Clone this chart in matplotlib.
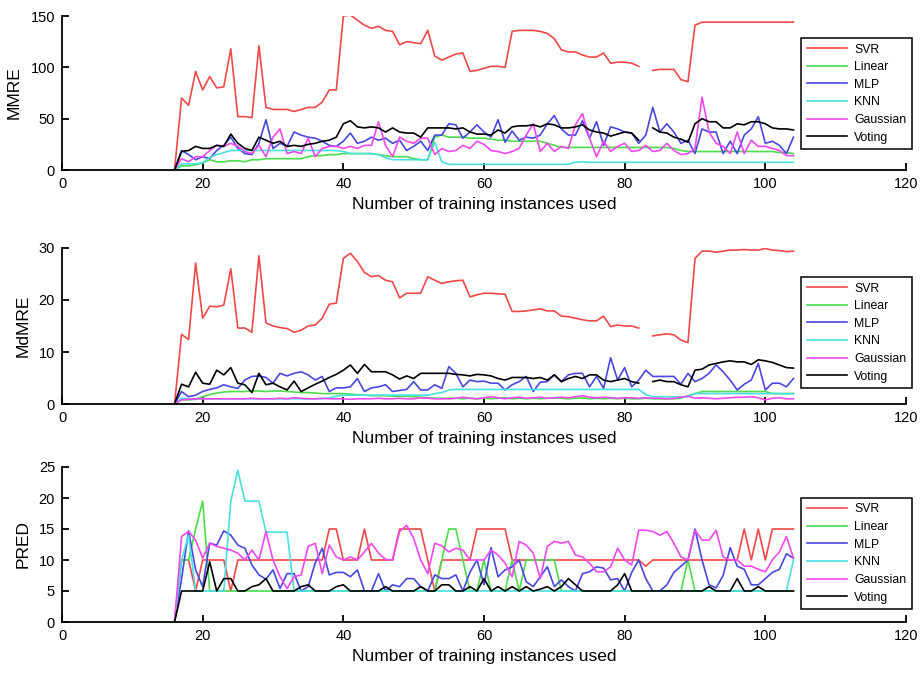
import numpy as np
import matplotlib
matplotlib.use('Agg')
import matplotlib.pyplot as plt

nan = np.nan

# training instances used: 16 .. 104
instances = list(range(16, 105))
methods = ['SVR', 'Linear', 'MLP', 'KNN', 'Gaussian', 'Voting']

# ---- MMRE ----
mmre_svr = [0, 70, 63, 96, 78, 91, 80, 81, 118, 52,
            52, 51, 121, 61, 59, 59, 59, 57, 59, 61,
            61, 66, 78, 78, 150, 151, 146, 141, 138, 140,
            136, 135, 122, 125, 124, 123, 136, 111, 107, 110,
            113, 114, 96, 97, 99, 101, 101, 100, 135, 136,
            136, 136, 135, 133, 128, 117, 115, 115, 112, 110,
            110, 114, 104, 105, 105, 104, 101, nan, 97, 98,
            98, 98, 88, 86, 141, 144, 144, 144, 144, 144,
            144, 144, 144, 144, 144, 144, 144, 144, 144]
mmre_linear = [0, 4, 4, 5, 7, 10, 8, 8, 9, 9,
               8, 10, 10, 11, 11, 11, 11, 11, 11, 13,
               14, 14, 15, 15, 16, 16, 16, 16, 16, 15,
               14, 13, 13, 13, 11, 10, 10, 32, 34, 32,
               32, 32, 31, 31, 31, 30, 29, 29, 28, 28,
               28, 28, 28, 26, 24, 22, 22, 22, 22, 22,
               22, 22, 22, 22, 22, 22, 22, 22, 22, 22,
               22, 21, 19, 18, 18, 18, 18, 18, 18, 18,
               18, 18, 18, 18, 18, 18, 17, 17, 16]
mmre_mlp = [0, 19, 15, 10, 13, 11, 19, 24, 32, 21,
            16, 15, 26, 49, 21, 26, 23, 37, 34, 32,
            31, 28, 24, 23, 28, 36, 26, 28, 32, 29,
            31, 26, 29, 19, 23, 28, 19, 34, 34, 45,
            44, 31, 37, 44, 37, 32, 49, 27, 38, 29,
            32, 31, 34, 45, 53, 40, 34, 34, 48, 31,
            47, 24, 42, 40, 37, 36, 26, 34, 61, 37,
            45, 37, 26, 29, 16, 40, 37, 37, 16, 28,
            16, 34, 40, 52, 26, 28, 24, 16, 32]
mmre_knn = [0, 6, 6, 6, 7, 12, 15, 17, 19, 19,
            19, 19, 19, 19, 19, 19, 19, 19, 19, 19,
            19, 19, 19, 19, 18, 16, 16, 16, 16, 15,
            12, 10, 10, 10, 10, 10, 10, 27, 8, 5.5,
            5.5, 5.5, 5.5, 5.5, 5.5, 5.5, 5.5, 5.5, 5.5, 5.5,
            5.5, 5.5, 5.5, 5.5, 5.5, 5.5, 5.5, 7.5, 8, 7.5,
            7.5, 7.5, 7.5, 7.5, 7.5, 7.5, 7.5, 7.5, 7.5, 7.5,
            7.5, 7.5, 7.5, 7.5, 7.5, 7.5, 7.5, 7.5, 7.5, 7.5,
            7.5, 7.5, 7.5, 7.5, 7.5, 7.5, 7.5, 7.5, 7.5]
mmre_gaussian = [0, 11, 8, 13, 13, 19, 24, 23, 26, 23,
                 18, 16, 24, 13, 32, 40, 16, 18, 16, 31,
                 13, 21, 23, 23, 21, 23, 21, 24, 24, 47,
                 24, 13, 32, 28, 26, 31, 31, 15, 21, 18,
                 19, 24, 21, 28, 25, 19, 18, 16, 18, 21,
                 34, 45, 18, 26, 18, 23, 21, 44, 55, 31,
                 13, 28, 18, 23, 26, 18, 19, 24, 18, 19,
                 26, 19, 15, 16, 21, 71, 37, 26, 23, 16,
                 37, 16, 29, 23, 23, 21, 19, 14, 14]
mmre_voting = [0, 18, 19, 23, 21, 21, 24, 23, 35, 26,
               21, 19, 32, 29, 26, 28, 23, 24, 23, 25,
               26, 28, 29, 32, 45, 48, 42, 41, 42, 41,
               37, 41, 37, 36, 36, 32, 41, 41, 41, 41,
               40, 41, 37, 35, 35, 34, 39, 36, 42, 43,
               43, 44, 42, 45, 44, 41, 41, 42, 44, 39,
               37, 36, 33, 35, 37, 36, 29, nan, 41, 37,
               36, 32, 30, 27, 45, 50, 47, 47, 41, 41,
               45, 44, 47, 47, 45, 41, 40, 40, 39]

# ---- MdMRE ----
mdmre_svr = [0, 13.4, 12.4, 27.1, 16.5, 18.8, 18.7, 19, 26, 14.6,
             14.6, 13.8, 28.5, 15.6, 15, 14.7, 14.5, 13.8, 14.2, 15.0,
             15.2, 16.5, 19.2, 19.4, 28, 29, 27.4, 25.3, 24.5, 24.7,
             23.8, 23.5, 20.4, 21.3, 21.3, 21.3, 24.5, 23.8, 23.2, 23.5,
             23.7, 23.8, 20.6, 21, 21.3, 21.3, 21.2, 21.1, 17.8, 17.8,
             17.9, 18.1, 18.3, 17.9, 17.9, 16.9, 16.8, 16.5, 16.2, 16,
             16, 16.9, 14.9, 15.2, 15, 15, 14.6, nan, 13.1, 13.3,
             13.5, 13.3, 12.3, 11.8, 28, 29.4, 29.4, 29.2, 29.4, 29.6,
             29.6, 29.7, 29.6, 29.6, 29.9, 29.6, 29.5, 29.3, 29.4]
mdmre_linear = [0, 0.8, 0.8, 0.9, 1.4, 1.8, 2.1, 2.3, 2.4, 2.4,
                2.4, 2.5, 2.5, 2.4, 2.5, 2.5, 2.4, 2.3, 2.2, 2.2,
                2.1, 2.0, 2.0, 2.0, 2.0, 1.9, 1.8, 1.7, 1.6, 1.6,
                1.6, 1.5, 1.5, 1.5, 1.4, 1.3, 1.2, 1.1, 1.1, 1.1,
                1.1, 1.0, 1.1, 1.0, 1.1, 1.0, 1.1, 1.2, 1.0, 1.1,
                1.0, 1.1, 1.0, 1.1, 1.2, 1.1, 1.0, 1.1, 1.2, 1.0,
                1.1, 1.0, 1.1, 1.0, 1.1, 1.0, 1.0, 1.1, 1.0, 1.0,
                1.0, 1.0, 1.1, 1.6, 2.0, 2.4, 2.4, 2.4, 2.4, 2.4,
                2.4, 2.4, 2.4, 2.4, 2.4, 2.0, 2.0, 2.0, 2.0]
mdmre_mlp = [0, 2.4, 1.4, 1.7, 2.4, 2.8, 3.1, 3.7, 3.3, 3.0,
             4.6, 5.3, 5.4, 5.1, 4.0, 5.9, 5.4, 5.9, 6.2, 5.6,
             4.6, 5.3, 2.4, 3.1, 3.1, 3.3, 4.9, 2.4, 3.1, 3.3,
             3.7, 2.4, 2.6, 2.8, 4.3, 2.7, 2.7, 3.7, 3.0, 7.2,
             5.9, 3.3, 4.6, 4.3, 4.4, 4.0, 4.0, 2.7, 3.7, 4.3,
             5.3, 2.4, 4.2, 4.3, 5.6, 4.3, 5.6, 5.9, 5.9, 3.3,
             5.3, 3.0, 8.9, 4.6, 7.0, 3.3, 4.6, 6.5, 5.3, 5.3,
             5.3, 5.3, 3.8, 5.9, 4.3, 4.9, 5.9, 7.5, 6.2, 4.6,
             2.7, 3.8, 4.6, 7.8, 2.7, 4.0, 4.0, 3.3, 4.9]
mdmre_knn = [0, 1.1, 1.0, 1.0, 1.0, 1.0, 1.0, 1.0, 1.0, 1.0,
             1.0, 1.0, 1.0, 1.0, 1.0, 1.0, 1.0, 1.0, 1.0, 1.0,
             1.0, 1.0, 1.2, 1.5, 1.7, 1.7, 1.7, 1.7, 1.7, 1.7,
             1.7, 1.7, 1.7, 1.7, 1.7, 1.7, 1.7, 2.0, 2.2, 2.7,
             2.8, 2.8, 2.8, 2.8, 2.8, 2.8, 2.8, 2.8, 2.8, 2.8,
             2.8, 2.8, 2.8, 2.8, 2.8, 2.8, 2.8, 2.8, 2.8, 2.8,
             2.8, 2.8, 2.8, 2.8, 2.8, 2.8, 2.8, 1.8, 1.4, 1.4,
             1.4, 1.4, 1.4, 1.4, 2.0, 2.0, 2.0, 2.0, 2.0, 2.0,
             2.0, 2.0, 2.0, 2.0, 2.0, 2.0, 2.0, 2.0, 2.0]
mdmre_gaussian = [0, 0.8, 0.9, 1.0, 1.0, 1.0, 1.0, 1.0, 1.0, 1.0,
                  1.0, 1.1, 1.0, 1.0, 1.0, 1.1, 1.0, 1.2, 1.1, 1.0,
                  1.0, 1.1, 1.0, 1.0, 1.0, 0.9, 1.0, 1.0, 1.0, 1.1,
                  1.0, 1.0, 1.1, 1.0, 1.0, 1.2, 1.1, 1.0, 1.0, 1.0,
                  1.1, 1.3, 1.1, 1.0, 1.2, 1.4, 1.2, 1.0, 1.2, 1.3,
                  1.1, 1.2, 1.3, 1.1, 1.2, 1.3, 1.2, 1.4, 1.6, 1.3,
                  1.2, 1.3, 1.2, 1.1, 1.2, 1.2, 1.1, 1.2, 1.1, 1.1,
                  1.0, 1.1, 1.3, 1.5, 1.1, 1.2, 1.1, 1.0, 1.1, 1.2,
                  1.3, 1.3, 1.4, 1.2, 0.8, 1.1, 1.2, 1.0, 1.0]
mdmre_voting = [0, 3.8, 3.3, 6.1, 4.0, 3.8, 6.5, 5.6, 7.0, 4.0,
                3.7, 2.2, 5.9, 3.7, 4.0, 3.3, 2.7, 4.4, 2.4, 3.1,
                3.8, 4.4, 5.1, 5.7, 6.5, 7.5, 5.9, 7.6, 6.2, 6.2,
                6.2, 5.6, 4.8, 5.4, 4.9, 5.9, 5.9, 5.9, 5.9, 5.9,
                5.7, 5.6, 5.4, 5.7, 5.6, 5.4, 4.9, 4.6, 5.1, 5.1,
                5.1, 4.9, 5.1, 4.6, 5.6, 4.3, 4.9, 5.3, 4.9, 5.6,
                5.6, 4.6, 4.3, 4.6, 4.9, 4.3, 4.0, nan, 4.3, 4.6,
                4.3, 4.3, 3.7, 3.3, 6.5, 6.7, 7.5, 7.8, 8.1, 8.3,
                8.1, 8.1, 7.6, 8.5, 8.3, 8.0, 7.5, 7.0, 6.9]

# ---- PRED ----
pred_svr = [0, 10, 10, 5, 10, 10, 10, 10, 5, 10,
            10, 10, 10, 10, 10, 10, 10, 10, 10, 10,
            10, 10, 15, 15, 10, 10, 10, 15, 10, 10,
            10, 10, 15, 15, 15, 15, 10, 5, 10, 10,
            10, 10, 10, 15, 15, 15, 15, 15, 10, 10,
            10, 10, 10, 10, 10, 10, 10, 10, 10, 10,
            10, 10, 10, 10, 10, 10, 10, 9, 10, 10,
            10, 10, 10, 10, 10, 10, 10, 10, 10, 10,
            10, 15, 10, 15, 10, 15, 15, 15, 15]
pred_linear = [0, 10, 10, 15, 19.5, 5, 5, 5, 5, 5,
               5, 5, 5, 5, 5, 5, 5, 5, 5, 5,
               5, 5, 5, 5, 5, 5, 5, 5, 5, 5,
               5, 5, 5, 5, 5, 5, 5, 5, 10, 15,
               15, 10, 5, 5, 10, 5, 5, 5, 10, 5,
               10, 10, 10, 10, 10, 5, 5, 5, 5, 5,
               5, 5, 5, 5, 5, 5, 5, 5, 5, 5,
               5, 5, 5, 10, 5, 5, 5, 5, 5, 5,
               5, 5, 5, 5, 5, 5, 5, 5, 5]
pred_mlp = [0, 7, 14.7, 8.4, 5.7, 12.7, 12.4, 14.7, 14.0, 12.4,
            11.9, 9.2, 7.6, 6.9, 8.4, 5.4, 7.8, 7.8, 5.0, 5.7,
            9.5, 11.9, 7.6, 8.0, 8.0, 7.3, 8.4, 5.0, 5.0, 7.8,
            5.0, 6.0, 5.7, 7.0, 7.0, 5.7, 5.0, 7.6, 7.0, 7.0,
            7.6, 5.0, 8.0, 10.0, 6.0, 12.0, 7.3, 8.4, 8.9, 10.0,
            6.5, 5.7, 7.3, 8.9, 5.7, 6.8, 5.7, 5.0, 7.8, 8.1,
            8.9, 8.7, 6.8, 7.0, 5.0, 8.0, 10.0, 7.0, 5.0, 5.0,
            6.0, 8.0, 9.0, 10.0, 15.0, 10.0, 6.0, 5.5, 7.5, 12.0,
            9.0, 8.5, 6.0, 6.0, 7.0, 8.0, 8.5, 11.0, 10.3]
pred_knn = [0, 10, 14, 5, 5, 5, 5, 5, 19.5, 24.5,
            19.5, 19.5, 19.5, 14.5, 14.5, 14.5, 14.5, 5, 5, 5,
            5, 5, 5, 5, 5, 5, 5, 5, 5, 5,
            5, 5, 5, 5, 5, 5, 5, 5, 5, 5,
            5, 5, 5, 5, 5, 5, 5, 5, 5, 5,
            5, 5, 5, 5, 5, 5, 5, 5, 5, 5,
            5, 5, 5, 5, 5, 5, 5, 5, 5, 5,
            5, 5, 5, 5, 5, 5, 5, 5, 5, 5,
            5, 5, 5, 5, 5, 5, 5, 5, 10]
pred_gaussian = [0, 13.8, 14.6, 13.2, 10.3, 12.7, 12.2, 11.9, 11.6, 11.1,
                 10.0, 11.6, 10.0, 14.6, 10.0, 7.3, 5.4, 7.3, 7.6, 12.2,
                 12.7, 7.8, 12.4, 10.5, 10.0, 10.5, 10.0, 11.3, 12.7, 11.1,
                 10.1, 10.0, 14.6, 15.6, 13.5, 10.0, 7.8, 12.7, 12.3, 11.3,
                 11.9, 11.6, 10.0, 10.0, 10.0, 11.6, 10.8, 9.5, 7.3, 13.0,
                 12.4, 11.1, 7.0, 12.2, 13.0, 12.7, 13.0, 10.8, 10.5, 9.5,
                 8.1, 8.1, 8.9, 11.9, 10.0, 9.2, 14.8, 14.8, 14.6, 14.0,
                 14.6, 12.7, 10.5, 10.0, 14.8, 13.2, 13.2, 14.8, 10.5, 10.0,
                 10.0, 9.0, 9.0, 8.5, 8.1, 10.0, 11.3, 13.8, 10.3]
pred_voting = [0, 5, 5, 5, 5, 9.7, 5, 7, 7, 5,
               5, 5.7, 6, 7, 5, 5, 5, 5, 5.7, 6,
               5, 5, 5, 5.7, 6, 5, 5, 5, 5, 5,
               5.7, 5, 5, 5, 5, 5.7, 5, 5, 6, 6,
               5, 5, 5.7, 5, 7, 5, 5.7, 5, 5.7, 5,
               5.7, 5, 5.3, 5.7, 5, 5.7, 7, 6, 5, 5,
               5, 5, 5, 6, 7.8, 5, 5, 5, 5, 5,
               5, 5, 5, 5, 5, 5, 5.7, 5, 5, 5,
               7, 5, 5, 5.7, 5, 5, 5, 5, 5]

colors = ['#f04848', '#4cdc4c', '#4848e0', '#48e0e0', '#f048f0', '#000000']


def draw_panel(ax, series, ylabel, yticks, legend_top):
    for name, values, c in zip(methods, series, colors):
        ax.plot(instances, values, color=c, lw=1.2, label=name)
    ax.set_xlim(0, 120)
    ax.set_ylim(yticks[0], yticks[-1])
    ax.set_xticks(range(0, 121, 20))
    ax.set_yticks(yticks)
    ax.spines['top'].set_visible(False)
    ax.spines['right'].set_visible(False)
    ax.spines['left'].set_linewidth(1.3)
    ax.spines['bottom'].set_linewidth(1.3)
    ax.tick_params(direction='in', length=5, width=1.3, labelsize=10.5, pad=5)
    ax.set_xlabel('Number of training instances used', fontsize=12.5, labelpad=4)
    ax.set_ylabel(ylabel, fontsize=12.5, labelpad=6)
    leg = ax.legend(loc='upper right', bbox_to_anchor=(1.007, legend_top),
                    fontsize=8.8, frameon=True, fancybox=False, borderaxespad=0,
                    handlelength=3.3, handletextpad=0.6, labelspacing=0.46,
                    borderpad=0.45)
    leg.get_frame().set_edgecolor('black')
    leg.get_frame().set_linewidth(1.1)
    leg.get_frame().set_alpha(1)


if __name__ == "__main__":
    plt.rcParams['font.family'] = ['Liberation Sans', 'DejaVu Sans']
    fig = plt.figure(figsize=(9.21, 6.81), dpi=100)

    left, width = 62 / 921, 844 / 921
    ax1 = fig.add_axes([left, (681 - 170) / 681, width, 154 / 681])
    ax2 = fig.add_axes([left, (681 - 404) / 681, width, 156 / 681])
    ax3 = fig.add_axes([left, (681 - 622) / 681, width, 155 / 681])

    draw_panel(ax1, [mmre_svr, mmre_linear, mmre_mlp, mmre_knn, mmre_gaussian, mmre_voting],
               'MMRE', [0, 50, 100, 150], 0.857)
    draw_panel(ax2, [mdmre_svr, mdmre_linear, mdmre_mlp, mdmre_knn, mdmre_gaussian, mdmre_voting],
               'MdMRE', [0, 10, 20, 30], 0.814)
    draw_panel(ax3, [pred_svr, pred_linear, pred_mlp, pred_knn, pred_gaussian, pred_voting],
               'PRED', [0, 5, 10, 15, 20, 25], 0.80)

    fig.savefig('out.png', dpi=100)
